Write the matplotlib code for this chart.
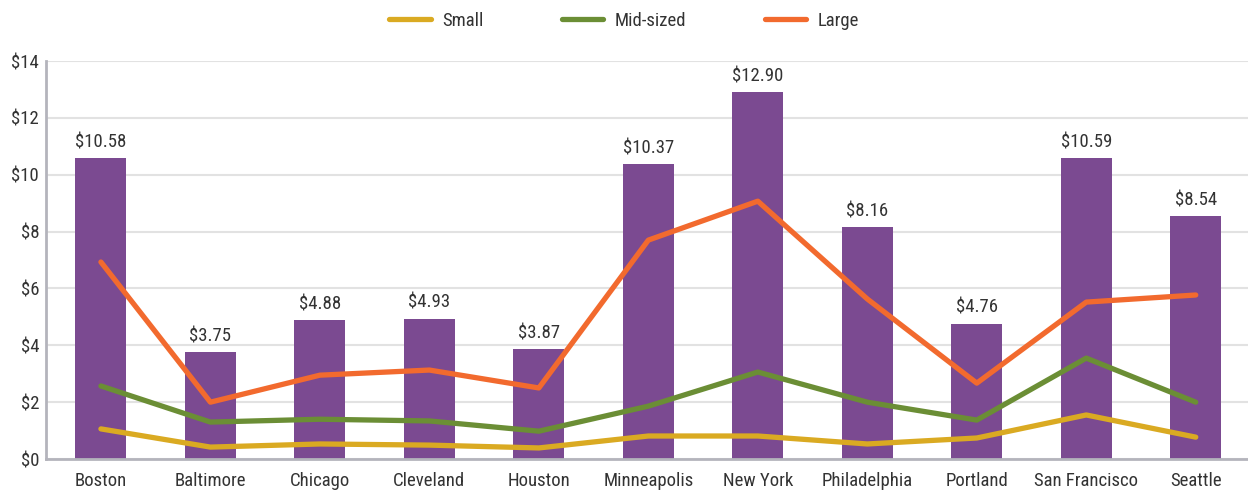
import numpy as np
import matplotlib
matplotlib.use("Agg")
import matplotlib.pyplot as plt
from matplotlib.ticker import FuncFormatter

plt.rcParams['font.family'] = ['Roboto Condensed', 'DejaVu Sans']

cities = ["Boston", "Baltimore", "Chicago", "Cleveland", "Houston", "Minneapolis",
          "New York", "Philadelphia", "Portland", "San Francisco", "Seattle"]
bar_vals = [10.58, 3.75, 4.88, 4.93, 3.87, 10.37, 12.90, 8.16, 4.76, 10.59, 8.54]
small = [1.06, 0.42, 0.53, 0.49, 0.39, 0.81, 0.81, 0.53, 0.74, 1.55, 0.77]
mid = [2.57, 1.30, 1.40, 1.34, 0.98, 1.86, 3.06, 2.00, 1.37, 3.55, 2.00]
large = [6.93, 2.00, 2.95, 3.13, 2.50, 7.70, 9.07, 5.63, 2.67, 5.52, 5.77]

txt = "#333333"
fs = 13.5
fig = plt.figure(figsize=(12.48, 4.92), dpi=100)
ax = fig.add_axes([0.037, 0.067, 0.965, 0.809])

x = np.arange(len(cities))
ax.bar(x, bar_vals, width=0.465, color="#7B4A91", zorder=2)
for xi, v in zip(x, bar_vals):
    ax.annotate(f"${v:.2f}", (xi, v), xytext=(0, 5), textcoords="offset points",
                ha="center", va="bottom", fontsize=fs, color=txt)

lw = 3.8
ax.plot(x, small, color="#DAAA22", lw=lw, solid_capstyle="round", label="Small", zorder=3)
ax.plot(x, mid, color="#6B8E35", lw=lw, solid_capstyle="round", label="Mid-sized", zorder=3)
ax.plot(x, large, color="#F26A2E", lw=lw, solid_capstyle="round", label="Large", zorder=3)

ax.set_xlim(-0.5, len(cities) - 0.5)
ax.set_ylim(0, 14)
ax.set_yticks(range(0, 15, 2))
ax.yaxis.set_major_formatter(FuncFormatter(lambda v, p: f"${v:.0f}"))
ax.set_xticks(x)
ax.set_xticklabels(cities)
ax.grid(axis="y", color="#E2E2E2", lw=1.5, zorder=0)
ax.set_axisbelow(True)
for s in ["top", "right"]:
    ax.spines[s].set_visible(False)
for s in ["left", "bottom"]:
    ax.spines[s].set_color("#B4B4BC")
    ax.spines[s].set_linewidth(2)
ax.tick_params(length=0, labelsize=fs, labelcolor=txt)
ax.tick_params(axis="x", pad=9)
ax.tick_params(axis="y", pad=5)

fig.legend(loc="upper center", bbox_to_anchor=(0.5, 1.01), ncol=3, frameon=False,
           fontsize=fs, handlelength=2.2, handletextpad=0.6, columnspacing=4.2,
           labelcolor=txt)

fig.savefig("out.png", dpi=100)
